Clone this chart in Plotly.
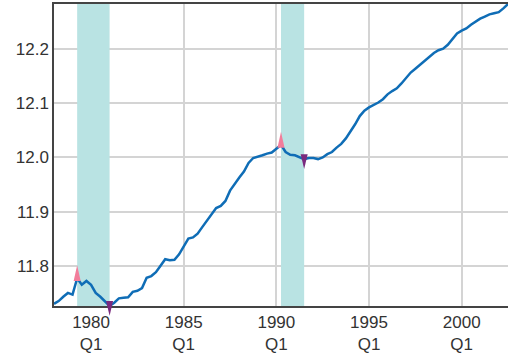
import plotly.graph_objects as go

# ---- data ----
start_year = 1978
values = [
    11.731, 11.736, 11.744, 11.751, 11.748, 11.778, 11.766, 11.773, 11.766, 11.751,
    11.744, 11.735, 11.727, 11.733, 11.741, 11.742, 11.743, 11.753, 11.755, 11.760,
    11.779, 11.782, 11.789, 11.801, 11.813, 11.811, 11.812, 11.822, 11.837, 11.851,
    11.853, 11.860, 11.872, 11.883, 11.894, 11.907, 11.911, 11.920, 11.939, 11.952,
    11.963, 11.974, 11.990, 11.999, 12.001, 12.004, 12.007, 12.009, 12.016, 12.023,
    12.010, 12.005, 12.004, 12.000, 11.997, 11.999, 11.999, 11.997, 12.000, 12.006,
    12.010, 12.018, 12.025, 12.035, 12.047, 12.061, 12.076, 12.086, 12.092, 12.096,
    12.101, 12.107, 12.116, 12.122, 12.127, 12.136, 12.147, 12.156, 12.163, 12.170,
    12.177, 12.185, 12.192, 12.197, 12.200, 12.207, 12.217, 12.228, 12.233, 12.237,
    12.244, 12.250, 12.255, 12.259, 12.263, 12.265, 12.267, 12.274, 12.282,
]
quarters = [f"{start_year + i // 4}Q{i % 4 + 1}" for i in range(len(values))]
peaks = ["1979Q2", "1990Q2"]
troughs = ["1981Q1", "1991Q3"]
tick_years = [1980, 1985, 1990, 1995, 2000]
tick_labels = [f"{y}<br>Q1" for y in tick_years]
y_ticks = [11.8, 11.9, 12.0, 12.1, 12.2]


def qnum(q):
    y, k = q.split("Q")
    return int(y) + (int(k) - 1) / 4


x = [qnum(q) for q in quarters]
val = dict(zip(quarters, values))

LINE = "#0f6db6"
BAND = "#b9e3e3"
PINK = "#f27d9b"
PURPLE = "#7a2a7e"
FONT = dict(family="Liberation Sans, Arial, sans-serif", size=17, color="#333333")

lo, hi = min(values), max(values)
H = 358
mt, mb = 4, 40
plot_h = H - mt - mb
extra = 12                      # px of room below the axis for marker tips
d = extra / plot_h
lo2 = lo - (hi - lo) * extra / (plot_h - extra)

fig = go.Figure()

# recession bands (filled traces so they sit above the grid)
for p, t in zip(peaks, troughs):
    x0, x1 = qnum(p), qnum(t)
    fig.add_trace(go.Scatter(
        x=[x0, x1, x1, x0, x0], y=[lo, lo, hi, hi, lo],
        fill="toself", fillcolor=BAND, mode="lines", line=dict(width=0, color=BAND),
        showlegend=False, hoverinfo="skip"))

fig.add_trace(go.Scatter(x=x, y=values, mode="lines",
                         line=dict(color=LINE, width=2.5), showlegend=False,
                         hoverinfo="skip"))

# peak / trough triangles on an overlay subplot that reaches below the axis
hw = 0.19
for p in peaks:
    px, pv = qnum(p), val[p]
    fig.add_trace(go.Scatter(
        x=[px - hw, px + hw, px, px - hw],
        y=[pv - 0.005, pv - 0.005, pv + 0.024, pv - 0.005],
        fill="toself", fillcolor=PINK, mode="lines", line=dict(width=0, color=PINK),
        xaxis="x2", yaxis="y2", showlegend=False, hoverinfo="skip"))
for t in troughs:
    tx, tv = qnum(t), val[t]
    fig.add_trace(go.Scatter(
        x=[tx - hw, tx + hw, tx, tx - hw],
        y=[tv + 0.009, tv + 0.009, tv - 0.018, tv + 0.009],
        fill="toself", fillcolor=PURPLE, mode="lines", line=dict(width=0, color=PURPLE),
        xaxis="x2", yaxis="y2", showlegend=False, hoverinfo="skip"))

fig.update_layout(
    width=508, height=H,
    margin=dict(l=54, r=0, t=mt, b=mb),
    paper_bgcolor="white", plot_bgcolor="rgba(0,0,0,0)",
    font=FONT,
    xaxis=dict(range=[x[0], x[-1]], tickvals=tick_years, ticktext=tick_labels,
               showgrid=True, gridcolor="#d4d4d4", gridwidth=1.5,
               showline=True, linecolor="#444444", linewidth=1.5, mirror=True,
               ticks="", zeroline=False, automargin=False, anchor="y", domain=[0, 1]),
    yaxis=dict(range=[lo, hi], domain=[d, 1], tickvals=y_ticks,
               ticktext=[f"{v:.1f}" for v in y_ticks],
               showgrid=True, gridcolor="#d4d4d4", gridwidth=1.5,
               showline=True, linecolor="#444444", linewidth=1.5,
               ticks="", zeroline=False, automargin=False, anchor="x"),
    xaxis2=dict(range=[x[0], x[-1]], domain=[0, 1], visible=False, showgrid=False,
                anchor="y2", zeroline=False),
    yaxis2=dict(range=[lo2, hi], domain=[0, 1], visible=False, showgrid=False,
                anchor="x2", zeroline=False),
)

fig.write_html("out.html", config={"displayModeBar": False},
               post_script="document.body.style.margin='0';document.body.style.overflow='hidden';")
